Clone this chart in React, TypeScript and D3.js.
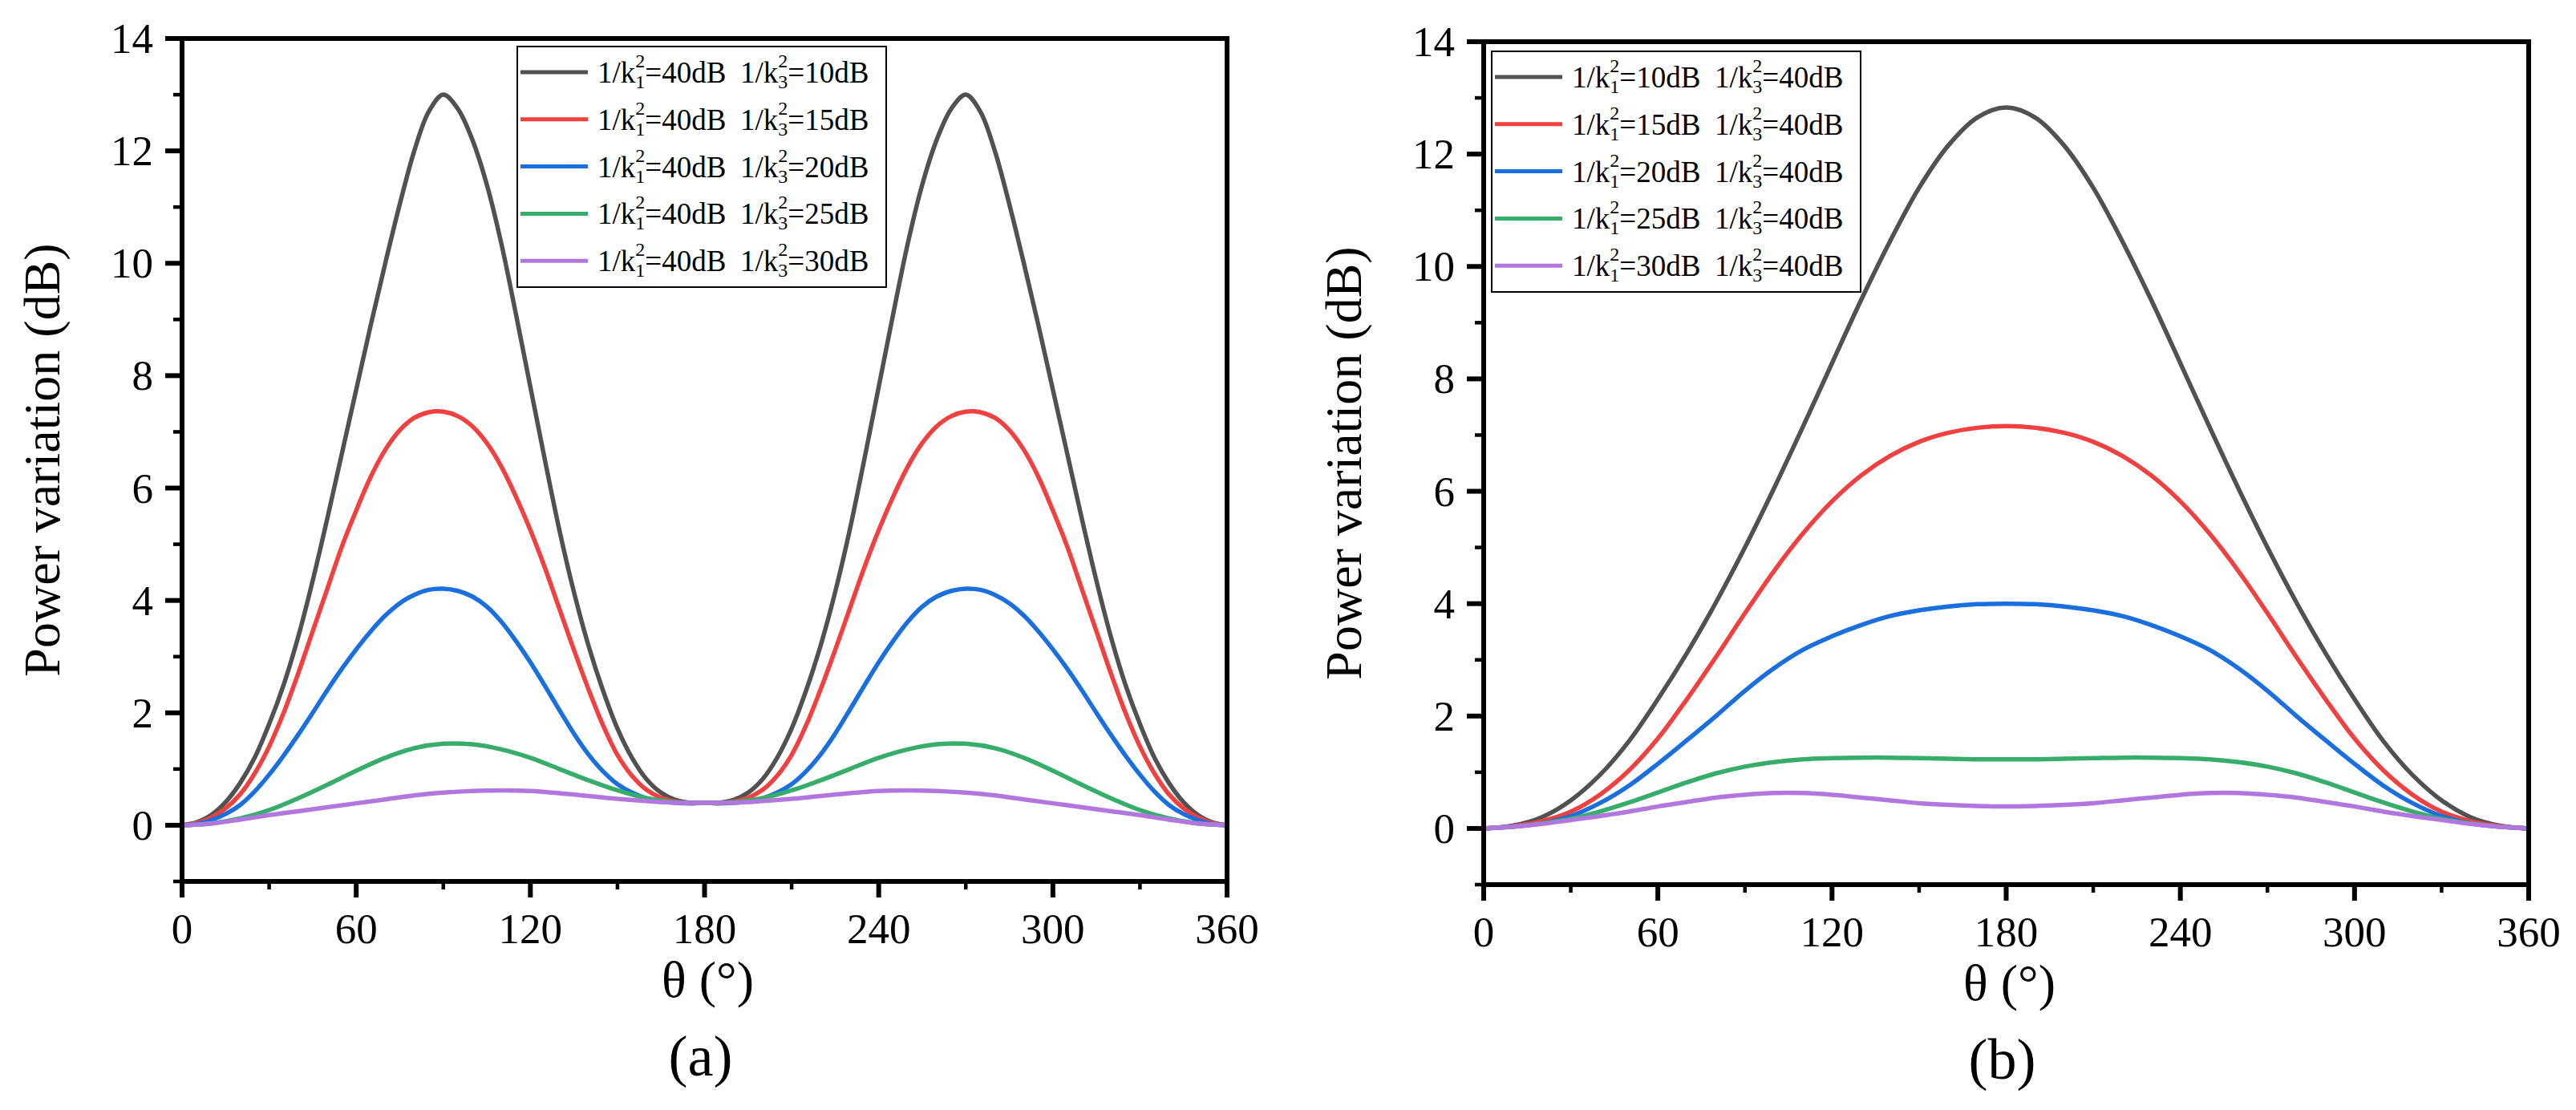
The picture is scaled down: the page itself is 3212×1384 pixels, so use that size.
import React from "react";
import * as d3 from "d3";

// ---------- data ----------
const THETA_FINE = d3.range(0, 361, 5);
const THETA_COARSE = d3.range(0, 361, 10);

const X_TICKS = [0, 60, 120, 180, 240, 300, 360];
const X_MINOR = [30, 90, 150, 210, 270, 330];
const Y_TICKS = [0, 2, 4, 6, 8, 10, 12, 14];
const Y_MINOR = [-1, 1, 3, 5, 7, 9, 11, 13];

const COLORS = ["#515151", "#F14040", "#1A6FDF", "#37AD6B", "#B177DE"];

// Panel (a): 1/k1^2 = 40 dB, 1/k3^2 = 10..30 dB  (5° steps for first three)
const A_BLACK = [0, 0.05, 0.18, 0.41, 0.75, 1.2, 1.8, 2.5, 3.35, 4.35, 5.45, 6.6, 7.75, 8.9, 10.0, 11.05, 12.0, 12.7, 13.0, 12.75, 12.2, 11.4, 10.35, 9.1, 7.8, 6.5, 5.25, 4.15, 3.2, 2.4, 1.72, 1.2, 0.82, 0.58, 0.45, 0.4, 0.4,
  0.4, 0.45, 0.58, 0.82, 1.2, 1.72, 2.4, 3.2, 4.15, 5.25, 6.5, 7.8, 9.1, 10.35, 11.4, 12.2, 12.75, 13.0, 12.7, 12.0, 11.05, 10.0, 8.9, 7.75, 6.6, 5.45, 4.35, 3.35, 2.5, 1.8, 1.2, 0.75, 0.41, 0.18, 0.05, 0];
const A_RED = [0, 0.04, 0.14, 0.3, 0.55, 0.92, 1.4, 2.0, 2.7, 3.45, 4.2, 4.95, 5.6, 6.2, 6.68, 7.03, 7.25, 7.35, 7.36, 7.28, 7.1, 6.8, 6.38, 5.85, 5.25, 4.58, 3.85, 3.12, 2.42, 1.78, 1.25, 0.88, 0.63, 0.49, 0.42, 0.39, 0.4,
  0.39, 0.42, 0.49, 0.63, 0.88, 1.25, 1.78, 2.42, 3.12, 3.85, 4.58, 5.25, 5.85, 6.38, 6.8, 7.1, 7.28, 7.36, 7.35, 7.25, 7.03, 6.68, 6.2, 5.6, 4.95, 4.2, 3.45, 2.7, 2.0, 1.4, 0.92, 0.55, 0.3, 0.14, 0.04, 0];
const A_BLUE = [0, 0.02, 0.09, 0.2, 0.36, 0.6, 0.9, 1.24, 1.61, 2.0, 2.4, 2.78, 3.13, 3.45, 3.73, 3.95, 4.1, 4.19, 4.21, 4.17, 4.07, 3.89, 3.62, 3.28, 2.9, 2.48, 2.05, 1.63, 1.26, 0.96, 0.73, 0.58, 0.48, 0.43, 0.4, 0.39, 0.4,
  0.39, 0.4, 0.43, 0.48, 0.58, 0.73, 0.96, 1.26, 1.63, 2.05, 2.48, 2.9, 3.28, 3.62, 3.89, 4.07, 4.17, 4.21, 4.19, 4.1, 3.95, 3.73, 3.45, 3.13, 2.78, 2.4, 2.0, 1.61, 1.24, 0.9, 0.6, 0.36, 0.2, 0.09, 0.02, 0];
const A_GREEN = [0, 0.03, 0.12, 0.27, 0.48, 0.72, 0.97, 1.2, 1.37, 1.45, 1.44, 1.35, 1.2, 1.0, 0.8, 0.62, 0.48, 0.41, 0.4,
  0.41, 0.48, 0.62, 0.8, 1.0, 1.2, 1.35, 1.44, 1.45, 1.37, 1.2, 0.97, 0.72, 0.48, 0.27, 0.12, 0.03, 0];
const A_PURPLE = [0, 0.03, 0.1, 0.18, 0.25, 0.32, 0.39, 0.46, 0.53, 0.58, 0.61, 0.62, 0.61, 0.57, 0.52, 0.47, 0.43, 0.4, 0.4,
  0.4, 0.43, 0.47, 0.52, 0.57, 0.61, 0.62, 0.61, 0.58, 0.53, 0.46, 0.39, 0.32, 0.25, 0.18, 0.1, 0.03, 0];

// Panel (b): 1/k1^2 = 10..30 dB, 1/k3^2 = 40 dB  (10° steps)
const B_BLACK = [0, 0.05, 0.2, 0.5, 0.95, 1.55, 2.3, 3.12, 4.02, 5.0, 6.05, 7.15, 8.28, 9.4, 10.45, 11.4, 12.15, 12.65, 12.83,
  12.65, 12.15, 11.4, 10.45, 9.4, 8.28, 7.15, 6.05, 5.0, 4.02, 3.12, 2.3, 1.55, 0.95, 0.5, 0.2, 0.05, 0];
const B_RED = [0, 0.04, 0.13, 0.3, 0.6, 1.03, 1.6, 2.3, 3.05, 3.83, 4.58, 5.25, 5.82, 6.28, 6.63, 6.88, 7.04, 7.13, 7.16,
  7.13, 7.04, 6.88, 6.63, 6.28, 5.82, 5.25, 4.58, 3.83, 3.05, 2.3, 1.6, 1.03, 0.6, 0.3, 0.13, 0.04, 0];
const B_BLUE = [0, 0.03, 0.09, 0.22, 0.45, 0.76, 1.15, 1.57, 2.0, 2.45, 2.85, 3.18, 3.42, 3.62, 3.78, 3.88, 3.95, 3.99, 4.0,
  3.99, 3.95, 3.88, 3.78, 3.62, 3.42, 3.18, 2.85, 2.45, 2.0, 1.57, 1.15, 0.76, 0.45, 0.22, 0.09, 0.03, 0];
const B_GREEN = [0, 0.03, 0.09, 0.17, 0.3, 0.46, 0.64, 0.82, 0.98, 1.1, 1.18, 1.23, 1.25, 1.26, 1.26, 1.25, 1.24, 1.23, 1.23,
  1.23, 1.24, 1.25, 1.26, 1.26, 1.25, 1.23, 1.18, 1.1, 0.98, 0.82, 0.64, 0.46, 0.3, 0.17, 0.09, 0.03, 0];
const B_PURPLE = [0, 0.03, 0.08, 0.15, 0.22, 0.3, 0.39, 0.47, 0.55, 0.6, 0.63, 0.63, 0.6, 0.55, 0.5, 0.45, 0.42, 0.4, 0.39,
  0.4, 0.42, 0.45, 0.5, 0.55, 0.6, 0.63, 0.63, 0.6, 0.55, 0.47, 0.39, 0.3, 0.22, 0.15, 0.08, 0.03, 0];

const A_K1 = ["40dB", "40dB", "40dB", "40dB", "40dB"];
const A_K3 = ["10dB", "15dB", "20dB", "25dB", "30dB"];
const B_K1 = ["10dB", "15dB", "20dB", "25dB", "30dB"];
const B_K3 = ["40dB", "40dB", "40dB", "40dB", "40dB"];

const FONT = "'Liberation Serif', 'Times New Roman', Times, serif";

type Series = { theta: number[]; values: number[]; color: string };

function LegendLabel({ x, y, sub, value }: { x: number; y: number; sub: string; value: string }) {
  return (
    <text x={x} y={y} fontFamily={FONT} fontSize={37} fill="#000">
      <tspan>1/k</tspan>
      <tspan fontSize={24} dy={-19}>2</tspan>
      <tspan fontSize={24} dx={-12} dy={26}>{sub}</tspan>
      <tspan fontSize={37} dy={-7}>{"=" + value}</tspan>
    </text>
  );
}

function Panel(props: {
  left: number; right: number; top: number; bottom: number;
  series: Series[]; k1: string[]; k3: string[]; tag: string;
  legendX: number; legendY: number;
}) {
  const { left, right, top, bottom, series, k1, k3, tag, legendX, legendY } = props;
  const x = d3.scaleLinear().domain([0, 360]).range([left, right]);
  const y = d3.scaleLinear().domain([-1, 14]).range([bottom, top]);
  const line = d3
    .line<[number, number]>()
    .x((d) => x(d[0]))
    .y((d) => y(d[1]))
    .curve(d3.curveCatmullRom.alpha(0.5));
  const cx = (left + right) / 2;
  const cy = (top + bottom) / 2;
  return (
    <g>
      {series.map((s, i) => (
        <path
          key={i}
          d={line(s.theta.map((t, j) => [t, s.values[j]] as [number, number])) || ""}
          fill="none"
          stroke={s.color}
          strokeWidth={5.5}
          strokeLinejoin="round"
        />
      ))}
      <rect x={left} y={top} width={right - left} height={bottom - top} fill="none" stroke="#000" strokeWidth={6} />
      {Y_TICKS.map((v) => (
        <g key={"yt" + v}>
          <line x1={left - 21} x2={left} y1={y(v)} y2={y(v)} stroke="#000" strokeWidth={6} />
          <text x={left - 36} y={y(v) + 18} textAnchor="end" fontFamily={FONT} fontSize={53}>{v}</text>
        </g>
      ))}
      {Y_MINOR.map((v) => (
        <line key={"ym" + v} x1={left - 11} x2={left} y1={y(v)} y2={y(v)} stroke="#000" strokeWidth={4.5} />
      ))}
      {X_TICKS.map((v) => (
        <g key={"xt" + v}>
          <line x1={x(v)} x2={x(v)} y1={bottom} y2={bottom + 20} stroke="#000" strokeWidth={6} />
          <text x={x(v)} y={bottom + 77} textAnchor="middle" fontFamily={FONT} fontSize={53}>{v}</text>
        </g>
      ))}
      {X_MINOR.map((v) => (
        <line key={"xm" + v} x1={x(v)} x2={x(v)} y1={bottom} y2={bottom + 10} stroke="#000" strokeWidth={4.5} />
      ))}
      <text
        transform={`translate(${left - 153},${cy}) rotate(-90)`}
        textAnchor="middle"
        fontFamily={FONT}
        fontSize={64}
      >
        Power variation (dB)
      </text>
      <text x={cx + 4} y={bottom + 144} textAnchor="middle" fontFamily={FONT} fontSize={64}>θ (°)</text>
      <text x={cx - 5} y={bottom + 242} textAnchor="middle" fontFamily={FONT} fontSize={72}>{tag}</text>
      <g>
        <rect x={legendX} y={legendY} width={460} height={300} fill="#fff" stroke="#000" strokeWidth={2} />
        {series.map((s, i) => {
          const ry = legendY + 32 + i * 58.8;
          return (
            <g key={"lg" + i}>
              <line x1={legendX + 4} x2={legendX + 88} y1={ry} y2={ry} stroke={s.color} strokeWidth={5} />
              <LegendLabel x={legendX + 100} y={ry + 13} sub="1" value={k1[i]} />
              <LegendLabel x={legendX + 278} y={ry + 13} sub="3" value={k3[i]} />
            </g>
          );
        })}
      </g>
    </g>
  );
}

export default function App() {
  const seriesA: Series[] = [
    { theta: THETA_FINE, values: A_BLACK, color: COLORS[0] },
    { theta: THETA_FINE, values: A_RED, color: COLORS[1] },
    { theta: THETA_FINE, values: A_BLUE, color: COLORS[2] },
    { theta: THETA_COARSE, values: A_GREEN, color: COLORS[3] },
    { theta: THETA_COARSE, values: A_PURPLE, color: COLORS[4] },
  ];
  const seriesB: Series[] = [
    { theta: THETA_COARSE, values: B_BLACK, color: COLORS[0] },
    { theta: THETA_COARSE, values: B_RED, color: COLORS[1] },
    { theta: THETA_COARSE, values: B_BLUE, color: COLORS[2] },
    { theta: THETA_COARSE, values: B_GREEN, color: COLORS[3] },
    { theta: THETA_COARSE, values: B_PURPLE, color: COLORS[4] },
  ];
  return (
    <div style={{ position: "absolute", left: 0, top: 0, background: "#fff" }}>
      <svg width={3212} height={1384} viewBox="0 0 3212 1384" style={{ display: "block", background: "#fff" }}>
        <Panel left={227} right={1530} top={48} bottom={1099} series={seriesA} k1={A_K1} k3={A_K3} tag="(a)" legendX={645} legendY={58} />
        <Panel left={1850} right={3153} top={52} bottom={1103} series={seriesB} k1={B_K1} k3={B_K3} tag="(b)" legendX={1860} legendY={64} />
      </svg>
    </div>
  );
}
